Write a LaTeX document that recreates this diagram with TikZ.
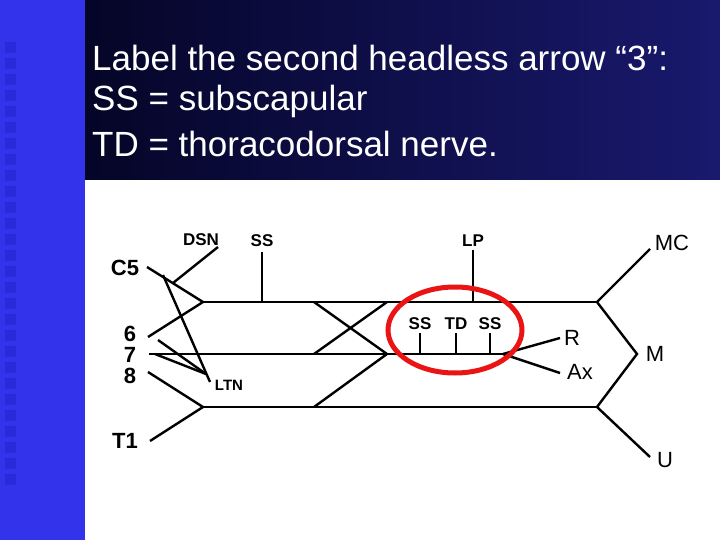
\documentclass[tikz,border=0pt]{standalone}
\usepackage{fontspec}
\setmainfont{Liberation Sans}
\begin{document}
\begin{tikzpicture}[x=1pt,y=-1pt,
  nerve/.style={line width=2.4pt},
  big/.style={font=\fontsize{22}{24}\selectfont\bfseries, inner sep=0pt},
  rlab/.style={font=\fontsize{22}{24}\selectfont, inner sep=0pt},
  small/.style={font=\fontsize{17}{18}\selectfont\bfseries, inner sep=0pt},
  title/.style={font=\fontsize{35}{38}\selectfont, text=white, anchor=west, inner sep=0pt}]
\useasboundingbox (0,0) rectangle (720,540);
\fill[white] (0,0) rectangle (720,540);
\fill[color={rgb,255:red,51;green,51;blue,235}] (0,0) rectangle (85,540);
\shade[left color={rgb,255:red,5;green,5;blue,40}, right color={rgb,255:red,25;green,25;blue,110}] (85,0) rectangle (720,180);
\foreach \i in {0,...,27} \fill[color={rgb,255:red,42;green,42;blue,220}] (5,{42+\i*16}) rectangle (16,{53+\i*16});
\node[title] (t1) at (92,58) {Label the second headless arrow “3”:};
\node[title] (t2) at (92,101) {SS = subscapular};
\node[title] (t3) at (92,144) {TD = thoracodorsal nerve.};
% coordinates
\coordinate (tL) at (203,302); \coordinate (tR) at (597,302);
\coordinate (mL) at (149,354); \coordinate (mR) at (508,354);
\coordinate (bL) at (203,407); \coordinate (bR) at (597,407);
\coordinate (c5) at (147,267); \coordinate (s6) at (148,337);
\coordinate (s8) at (148,372); \coordinate (t1e) at (150,441);
\coordinate (mp) at (637,354);
\coordinate (mce) at (650,249); \coordinate (ue) at (650,457);
\coordinate (re) at (560,338); \coordinate (axe) at (560,373);
\draw[nerve] (tL) -- (tR); \draw[nerve] (mL) -- (mR); \draw[nerve] (bL) -- (bR);
\draw[nerve] (c5) -- (tL) -- (s6); \draw[nerve] (s8) -- (bL) -- (t1e);
\draw[nerve] (218,247) -- (173,283);
\draw[nerve] (163,275) -- (210,382);
\draw[nerve] (158,340) -- (206,374);
\draw[nerve] (155,354) -- (206,374);
\draw[nerve] (262,252) -- (262,302);
\draw[nerve] (314,302) -- (387,354); \draw[nerve] (314,354) -- (387,302);
\draw[nerve] (314,407) -- (387,354);
\draw[nerve] (473,250) -- (473,302);
\draw[nerve] (420,333) -- (420,354); \draw[nerve] (456,333) -- (456,354); \draw[nerve] (490,333) -- (490,354);
\draw[nerve] (503,354) -- (re); \draw[nerve] (503,354) -- (axe);
\draw[nerve] (mce) -- (tR) -- (mp) -- (bR) -- (ue);
\draw[line width=5pt, color={rgb,255:red,235;green,20;blue,20}] (455,330) ellipse (67 and 43);
% labels
\node[big] (lc5) at (125,268) {C5};
\node[big] (l6) at (130,334) {6};
\node[big] (l7) at (130,355) {7};
\node[big] (l8) at (130,376) {8};
\node[big] (lt1) at (125,441) {T1};
\node[small] (ldsn) at (201,240) {DSN};
\node[small] (lss) at (262,241) {SS};
\node[small] (llp) at (473,241) {LP};
\node[small, font=\fontsize{15}{16}\selectfont\bfseries] (lltn) at (229,385) {LTN};
\node[small] (ls1) at (420,324) {SS};
\node[small] (ltd) at (456,324) {TD};
\node[small] (ls2) at (490,324) {SS};
\node[rlab] (lmc) at (672,243) {MC};
\node[rlab] (lm) at (655,354) {M};
\node[rlab] (lu) at (665,460) {U};
\node[rlab] (lr) at (572,338) {R};
\node[rlab] (lax) at (580,372) {Ax};
\end{tikzpicture}
\end{document}
